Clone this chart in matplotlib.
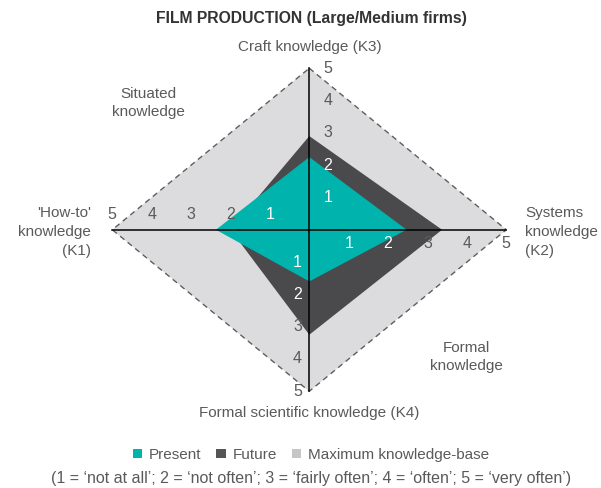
import matplotlib.pyplot as plt
from matplotlib.patches import Polygon, Patch

plt.rcParams['font.family'] = ['Liberation Sans', 'DejaVu Sans']

# axis order: K3 (top), K2 (right), K4 (bottom), K1 (left)
axis_names = ["Craft knowledge (K3)", "Systems\nknowledge\n(K2)",
              "Formal scientific knowledge (K4)", "'How-to'\nknowledge\n(K1)"]
present = [2.25, 2.47, 1.6, 2.37]
future = [2.9, 3.37, 3.25, 2.0]
maximum = [5, 5, 5, 5]
ticks = [1, 2, 3, 4, 5]

# which tick labels sit on a dark fill (drawn white)
white_top = [1, 2]
white_right = [1, 2]
white_bottom = [1, 2]
white_left = [1]

teal = "#00b3ad"
dark = "#4a4a4c"
light = "#dcdcde"
grey_txt = "#5a5a5a"


def diamond(vals):
    top, right, bottom, left = vals
    return [(0, top), (right, 0), (0, -bottom), (-left, 0)]


fig = plt.figure(figsize=(6.01, 4.88), dpi=100)
ax = fig.add_axes([0, 0, 1, 1])
# 1 unit = 39.4 px horizontally, 32.2 px vertically, centre at (309, 229) px
ax.set_xlim(-309.3 / 39.4, (601 - 309.3) / 39.4)
ax.set_ylim(-(488 - 229) / 32.4, 229 / 32.2)
ax.axis("off")

ax.add_patch(Polygon(diamond(maximum), closed=True, facecolor=light,
                     edgecolor="none", zorder=1))
ax.add_patch(Polygon(diamond(maximum), closed=True, facecolor="none",
                     edgecolor="#5e5e5e", lw=1.0, linestyle=(0, (4, 3)), zorder=2))
ax.add_patch(Polygon(diamond(future), closed=True, facecolor=dark,
                     edgecolor="none", zorder=3))
ax.add_patch(Polygon(diamond(present), closed=True, facecolor=teal,
                     edgecolor="none", zorder=4))

ax.plot([-5, 5], [0, 0], color="black", lw=1.1, zorder=5)
ax.plot([0, 0], [-5, 5], color="black", lw=1.1, zorder=5)

fs = 11
tfs = 11.5
for t in ticks:
    ax.text(0.47, t, str(t), ha="center", va="center", fontsize=tfs,
            color="white" if t in white_top else grey_txt, zorder=6)
    ax.text(t, -0.42, str(t), ha="center", va="center", fontsize=tfs,
            color="white" if t in white_right else grey_txt, zorder=6)
    ax.text(-0.3, -t, str(t), ha="center", va="center", fontsize=tfs,
            color="white" if t in white_bottom else grey_txt, zorder=6)
    ax.text(-t, 0.47, str(t), ha="center", va="center", fontsize=tfs,
            color="white" if t in white_left else grey_txt, zorder=6)

# axis titles (pixel positions converted to figure fraction)
W, H = 601.0, 488.0
fig.text(310 / W, 1 - 47 / H, axis_names[0], ha="center", va="center",
         fontsize=fs, color=grey_txt)
fig.text(525 / W, 1 - 232 / H, axis_names[1], ha="left", va="center",
         fontsize=fs, color=grey_txt, linespacing=1.45)
fig.text(309 / W, 1 - 413 / H, axis_names[2], ha="center", va="center",
         fontsize=fs, color=grey_txt)
fig.text(91 / W, 1 - 232 / H, axis_names[3], ha="right", va="center",
         fontsize=fs, color=grey_txt, linespacing=1.45)
fig.text(148 / W, 1 - 103 / H, "Situated\nknowledge", ha="center", va="center",
         fontsize=fs, color=grey_txt, linespacing=1.45)
fig.text(466 / W, 1 - 357 / H, "Formal\nknowledge", ha="center", va="center",
         fontsize=fs, color=grey_txt, linespacing=1.45)

fig.text(311 / W, 1 - 18 / H, "FILM PRODUCTION (Large/Medium firms)",
         ha="center", va="center", fontsize=11.3, fontweight="bold", color="#333333")

handles = [Patch(facecolor=teal), Patch(facecolor="#555557"), Patch(facecolor="#c6c6c8")]
fig.legend(handles, ["Present", "Future", "Maximum knowledge-base"],
           loc="center", bbox_to_anchor=(311 / W, 1 - 455 / H), ncol=3,
           frameon=False, fontsize=fs, handlelength=0.6, handleheight=0.6,
           handletextpad=0.45, columnspacing=1.0, labelcolor=grey_txt)

fig.text(311 / W, 1 - 479 / H,
         "(1 = \u2018not at all\u2019; 2 = \u2018not often\u2019; 3 = \u2018fairly often\u2019; "
         "4 = \u2018often\u2019; 5 = \u2018very often\u2019)",
         ha="center", va="center", fontsize=11.5, color=grey_txt)

fig.savefig("out.png", dpi=100)
